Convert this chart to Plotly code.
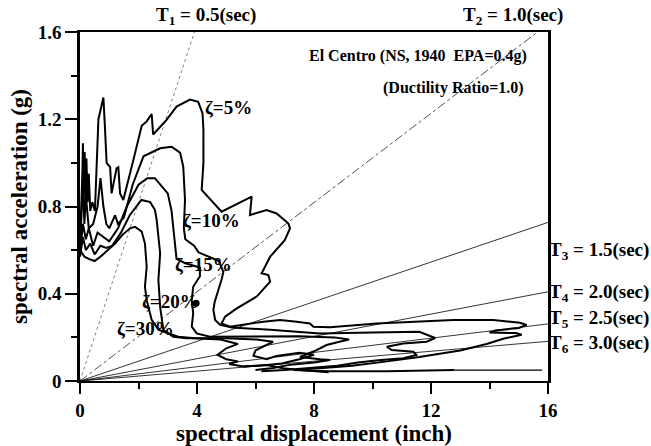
import numpy as np
import plotly.graph_objects as go

# Demand spectra (ADRS format): spectral displacement Sd (inch) vs spectral acceleration Sa (g)
sd_05 = [0.0, 0.05, 0.08, 0.10, 0.13, 0.16, 0.19, 0.22, 0.26, 0.30, 0.35, 0.42, 0.51, 0.63, 0.80, 0.85, 0.91,
         1.03, 1.08, 1.25, 1.31, 1.37, 1.48, 1.80, 2.11, 2.28, 2.45, 2.50, 2.96, 3.30, 3.76, 4.04, 4.19, 4.22,
         4.22, 4.16, 4.84, 5.87, 5.81, 6.38, 6.72, 7.12, 7.18, 7.00, 6.50, 6.21, 6.44, 6.50, 6.04, 5.36, 4.96,
         4.84, 5.13, 6.27, 6.84, 7.41, 7.86, 7.98, 8.55, 10.14, 12.76, 14.13, 15.04, 15.27, 15.00, 14.20, 14.00,
         14.90, 15.10, 14.50, 13.90, 13.00, 11.60, 10.50, 9.30, 8.20, 7.30, 8.50, 10.50, 12.80, 15.80]
sa_05 = [0.62, 0.80, 0.95, 1.09, 0.85, 1.05, 0.80, 1.02, 0.82, 0.95, 0.78, 0.82, 0.78, 1.20, 1.30, 1.17, 1.00,
         0.98, 0.86, 0.975, 0.98, 0.86, 0.83, 1.00, 1.17, 1.19, 1.224, 1.13, 1.197, 1.258, 1.29, 1.28, 1.227, 1.15,
         1.00, 0.876, 0.776, 0.845, 0.761, 0.784, 0.768, 0.723, 0.70, 0.646, 0.57, 0.494, 0.486, 0.455, 0.387, 0.333,
         0.295, 0.264, 0.249, 0.272, 0.28, 0.272, 0.264, 0.249, 0.246, 0.264, 0.28, 0.28, 0.267, 0.257, 0.243, 0.232,
         0.222, 0.22, 0.212, 0.195, 0.17, 0.14, 0.11, 0.09, 0.07, 0.058, 0.05, 0.045, 0.045, 0.05, 0.05]
TAIL_05 = 79  # long-period end of the 5% spectrum, drawn with a light stroke

sd_10 = [0.0, 0.05, 0.10, 0.15, 0.20, 0.30, 0.45, 0.60, 0.70, 0.80, 0.90, 1.00, 1.20, 1.30, 1.50, 1.80, 2.17,
         2.74, 3.13, 3.42, 3.53, 3.59, 3.56, 3.55, 3.60, 3.90, 4.05, 4.40, 4.75, 4.90, 4.85, 4.73, 4.60, 4.56,
         4.62, 4.79, 5.20, 6.50, 8.20, 10.00, 11.60, 12.14, 11.85, 11.05, 10.49, 10.66, 11.40, 11.50, 11.05,
         10.20, 9.50, 8.80, 8.00, 7.00, 6.20]
sa_10 = [0.60, 0.75, 0.92, 0.72, 0.85, 0.70, 0.72, 0.80, 0.93, 0.80, 0.72, 0.70, 0.76, 0.72, 0.75, 0.90, 1.03,
         1.067, 1.074, 1.047, 0.983, 0.83, 0.76, 0.70, 0.65, 0.62, 0.59, 0.57, 0.55, 0.50, 0.47, 0.417, 0.36, 0.326,
         0.28, 0.257, 0.245, 0.235, 0.218, 0.222, 0.226, 0.197, 0.18, 0.172, 0.157, 0.142, 0.134, 0.119, 0.104,
         0.095, 0.085, 0.07, 0.06, 0.05, 0.045]

sd_15 = [0.0, 0.10, 0.20, 0.30, 0.45, 0.60, 0.80, 1.00, 1.30, 1.60, 2.00, 2.30, 2.56, 3.00, 3.13, 3.20, 3.25,
         3.30, 3.60, 4.10, 4.10, 3.87, 3.82, 3.87, 3.82, 3.99, 4.44, 6.00, 7.50, 8.70, 9.20, 8.80, 8.43, 7.98,
         7.52, 8.20, 8.55, 8.00, 7.20, 6.60, 6.00]
sa_15 = [0.58, 0.72, 0.65, 0.70, 0.62, 0.68, 0.66, 0.64, 0.70, 0.80, 0.90, 0.93, 0.93, 0.86, 0.78, 0.70, 0.62,
         0.56, 0.54, 0.52, 0.48, 0.432, 0.371, 0.31, 0.249, 0.218, 0.203, 0.205, 0.205, 0.20, 0.19, 0.178, 0.165, 0.135,
         0.11, 0.10, 0.096, 0.085, 0.075, 0.06, 0.05]

sd_20 = [0.0, 0.10, 0.20, 0.35, 0.50, 0.70, 0.90, 1.10, 1.40, 1.70, 2.10, 2.40, 2.56, 2.62, 2.74, 2.68, 2.74,
         2.85, 3.19, 3.65, 5.00, 6.04, 6.60, 6.27, 6.00, 5.93, 6.38, 6.72, 7.50, 8.00, 7.50, 6.90, 6.38, 5.58]
sa_20 = [0.57, 0.66, 0.60, 0.63, 0.58, 0.62, 0.61, 0.62, 0.68, 0.76, 0.83, 0.82, 0.785, 0.74, 0.585, 0.463, 0.34,
         0.234, 0.203, 0.196, 0.196, 0.19, 0.18, 0.16, 0.14, 0.115, 0.10, 0.115, 0.13, 0.12, 0.10, 0.08, 0.073, 0.066]

sd_30 = [0.0, 0.15, 0.30, 0.50, 0.70, 0.95, 1.20, 1.45, 1.71, 1.88, 2.11, 2.22, 2.28, 2.22, 2.28, 2.45, 2.68,
         3.02, 3.36, 3.93, 4.80, 5.40, 5.00, 4.70, 5.00, 5.40, 5.10, 5.58, 6.38, 6.95, 7.50, 8.50]
sa_30 = [0.60, 0.57, 0.56, 0.55, 0.57, 0.60, 0.63, 0.67, 0.70, 0.707, 0.685, 0.63, 0.524, 0.432, 0.371, 0.28, 0.235,
         0.218, 0.203, 0.196, 0.19, 0.17, 0.15, 0.12, 0.10, 0.09, 0.078, 0.066, 0.073, 0.058, 0.05, 0.04]

# Performance point marker
pp_sd = [3.97]
pp_sa = [0.356]

# Constant-period radial lines
periods = [0.5, 1.0, 1.5, 2.0, 2.5, 3.0]
period_labels = ["T<sub>1</sub> = 0.5(sec)", "T<sub>2</sub> = 1.0(sec)", "T<sub>3</sub> = 1.5(sec)",
                 "T<sub>4</sub> = 2.0(sec)", "T<sub>5</sub> = 2.5(sec)", "T<sub>6</sub> = 3.0(sec)"]
damping_labels = ["\u03b6=5%", "\u03b6=10%", "\u03b6=15%", "\u03b6=20%", "\u03b6=30%"]

x_ticks = [0, 4, 8, 12, 16]
y_ticks = [0, 0.4, 0.8, 1.2, 1.6]
y_tick_text = ["0", "0.4", "0.8", "1.2", "1.6"]

G_IN = 386.09  # gravity, in/s^2
SD_MAX, SA_MAX = 16.0, 1.6

FONT = "Liberation Serif"

fig = go.Figure()

# radial period lines, clipped to the plotting box
period_styles = [
    dict(color="#808080", width=1, dash="dot"),
    dict(color="#505050", width=1, dash="dashdot"),
    dict(color="black", width=0.8),
    dict(color="black", width=0.8),
    dict(color="black", width=0.8),
    dict(color="black", width=0.8),
]
for T, sty in zip(periods, period_styles):
    k = (2 * np.pi / T) ** 2 / G_IN  # Sa per inch of Sd
    sd_end = min(SD_MAX, SA_MAX / k)
    fig.add_trace(go.Scatter(x=[0, sd_end], y=[0, k * sd_end], mode="lines",
                             line=sty, hoverinfo="skip", showlegend=False))

curve = dict(color="black", width=2)
fig.add_trace(go.Scatter(x=sd_05[:TAIL_05 + 1], y=sa_05[:TAIL_05 + 1], mode="lines",
                         line=curve, showlegend=False))
fig.add_trace(go.Scatter(x=sd_05[TAIL_05:], y=sa_05[TAIL_05:], mode="lines",
                         line=dict(color="black", width=1.2), showlegend=False))
for sd, sa in [(sd_10, sa_10), (sd_15, sa_15), (sd_20, sa_20), (sd_30, sa_30)]:
    fig.add_trace(go.Scatter(x=sd, y=sa, mode="lines", line=curve, showlegend=False))

fig.add_trace(go.Scatter(x=pp_sd, y=pp_sa, mode="markers",
                         marker=dict(color="black", size=7), showlegend=False))

lab_font = dict(family=FONT, size=19, color="black")
ann = []
# period labels: T1, T2 above the top edge, T3..T6 past the right edge
ann.append(dict(x=0.269, y=1.046, xref="paper", yref="paper", text=period_labels[0],
                showarrow=False, font=lab_font, xanchor="center", yanchor="middle"))
ann.append(dict(x=0.925, y=1.046, xref="paper", yref="paper", text=period_labels[1],
                showarrow=False, font=lab_font, xanchor="center", yanchor="middle"))
for lbl, yy in zip(period_labels[2:], [0.372, 0.253, 0.177, 0.105]):
    ann.append(dict(x=0.998, y=yy, xref="paper", yref="paper", text=lbl, showarrow=False,
                    font=lab_font, xanchor="left", yanchor="middle"))

ann.append(dict(x=0.959, y=0.931, xref="paper", yref="paper",
                text="El Centro (NS, 1940&nbsp;&nbsp;EPA=0.4g)", showarrow=False,
                font=dict(family=FONT, size=16, color="black"), xanchor="right", yanchor="middle"))
ann.append(dict(x=0.954, y=0.84, xref="paper", yref="paper",
                text="(Ductility Ratio=1.0)", showarrow=False,
                font=dict(family=FONT, size=16, color="black"), xanchor="right", yanchor="middle"))

# damping labels placed next to each spectrum
damp_pos = [(4.2, 1.255), (3.44, 0.735), (3.17, 0.535), (2.05, 0.366), (1.2, 0.24)]
for lbl, (xx, yy) in zip(damping_labels, damp_pos):
    ann.append(dict(x=xx, y=yy, xref="x", yref="y", text=lbl, showarrow=False,
                    font=dict(family=FONT, size=19, color="black"), xanchor="left", yanchor="middle"))

for a in ann:
    a["text"] = "<b>" + a["text"] + "</b>"

fig.update_layout(
    width=651, height=446,
    margin=dict(l=80, r=103, t=32, b=65),
    paper_bgcolor="white", plot_bgcolor="white",
    font=dict(family=FONT, color="black"),
    annotations=ann,
    xaxis=dict(range=[0, SD_MAX], tickvals=x_ticks, ticktext=["<b>%d</b>" % v for v in x_ticks],
               showgrid=False, zeroline=False, automargin=False,
               showline=True, linecolor="black", linewidth=2, mirror=True,
               ticks="outside", ticklen=11, tickwidth=2, tickcolor="black",
               minor=dict(dtick=2, tick0=0, ticks="outside", ticklen=6, tickwidth=2, tickcolor="black"),
               tickfont=dict(family=FONT, size=19, color="black"),
               title=dict(text="<b>spectral displacement (inch)</b>", standoff=2,
                          font=dict(family=FONT, size=23, color="black"))),
    yaxis=dict(range=[0, SA_MAX], tickvals=y_ticks, ticktext=["<b>%s</b>" % t for t in y_tick_text],
               showgrid=False, zeroline=False, automargin=False,
               showline=True, linecolor="black", linewidth=2.5, mirror=True,
               ticks="outside", ticklen=12, tickwidth=2, tickcolor="black",
               minor=dict(dtick=0.2, tick0=0, ticks="outside", ticklen=6, tickwidth=2, tickcolor="black"),
               tickfont=dict(family=FONT, size=19, color="black"),
               title=dict(text="<b>spectral acceleration (g)</b>", standoff=4,
                          font=dict(family=FONT, size=23, color="black"))),
)

fig.write_html("out.html")
